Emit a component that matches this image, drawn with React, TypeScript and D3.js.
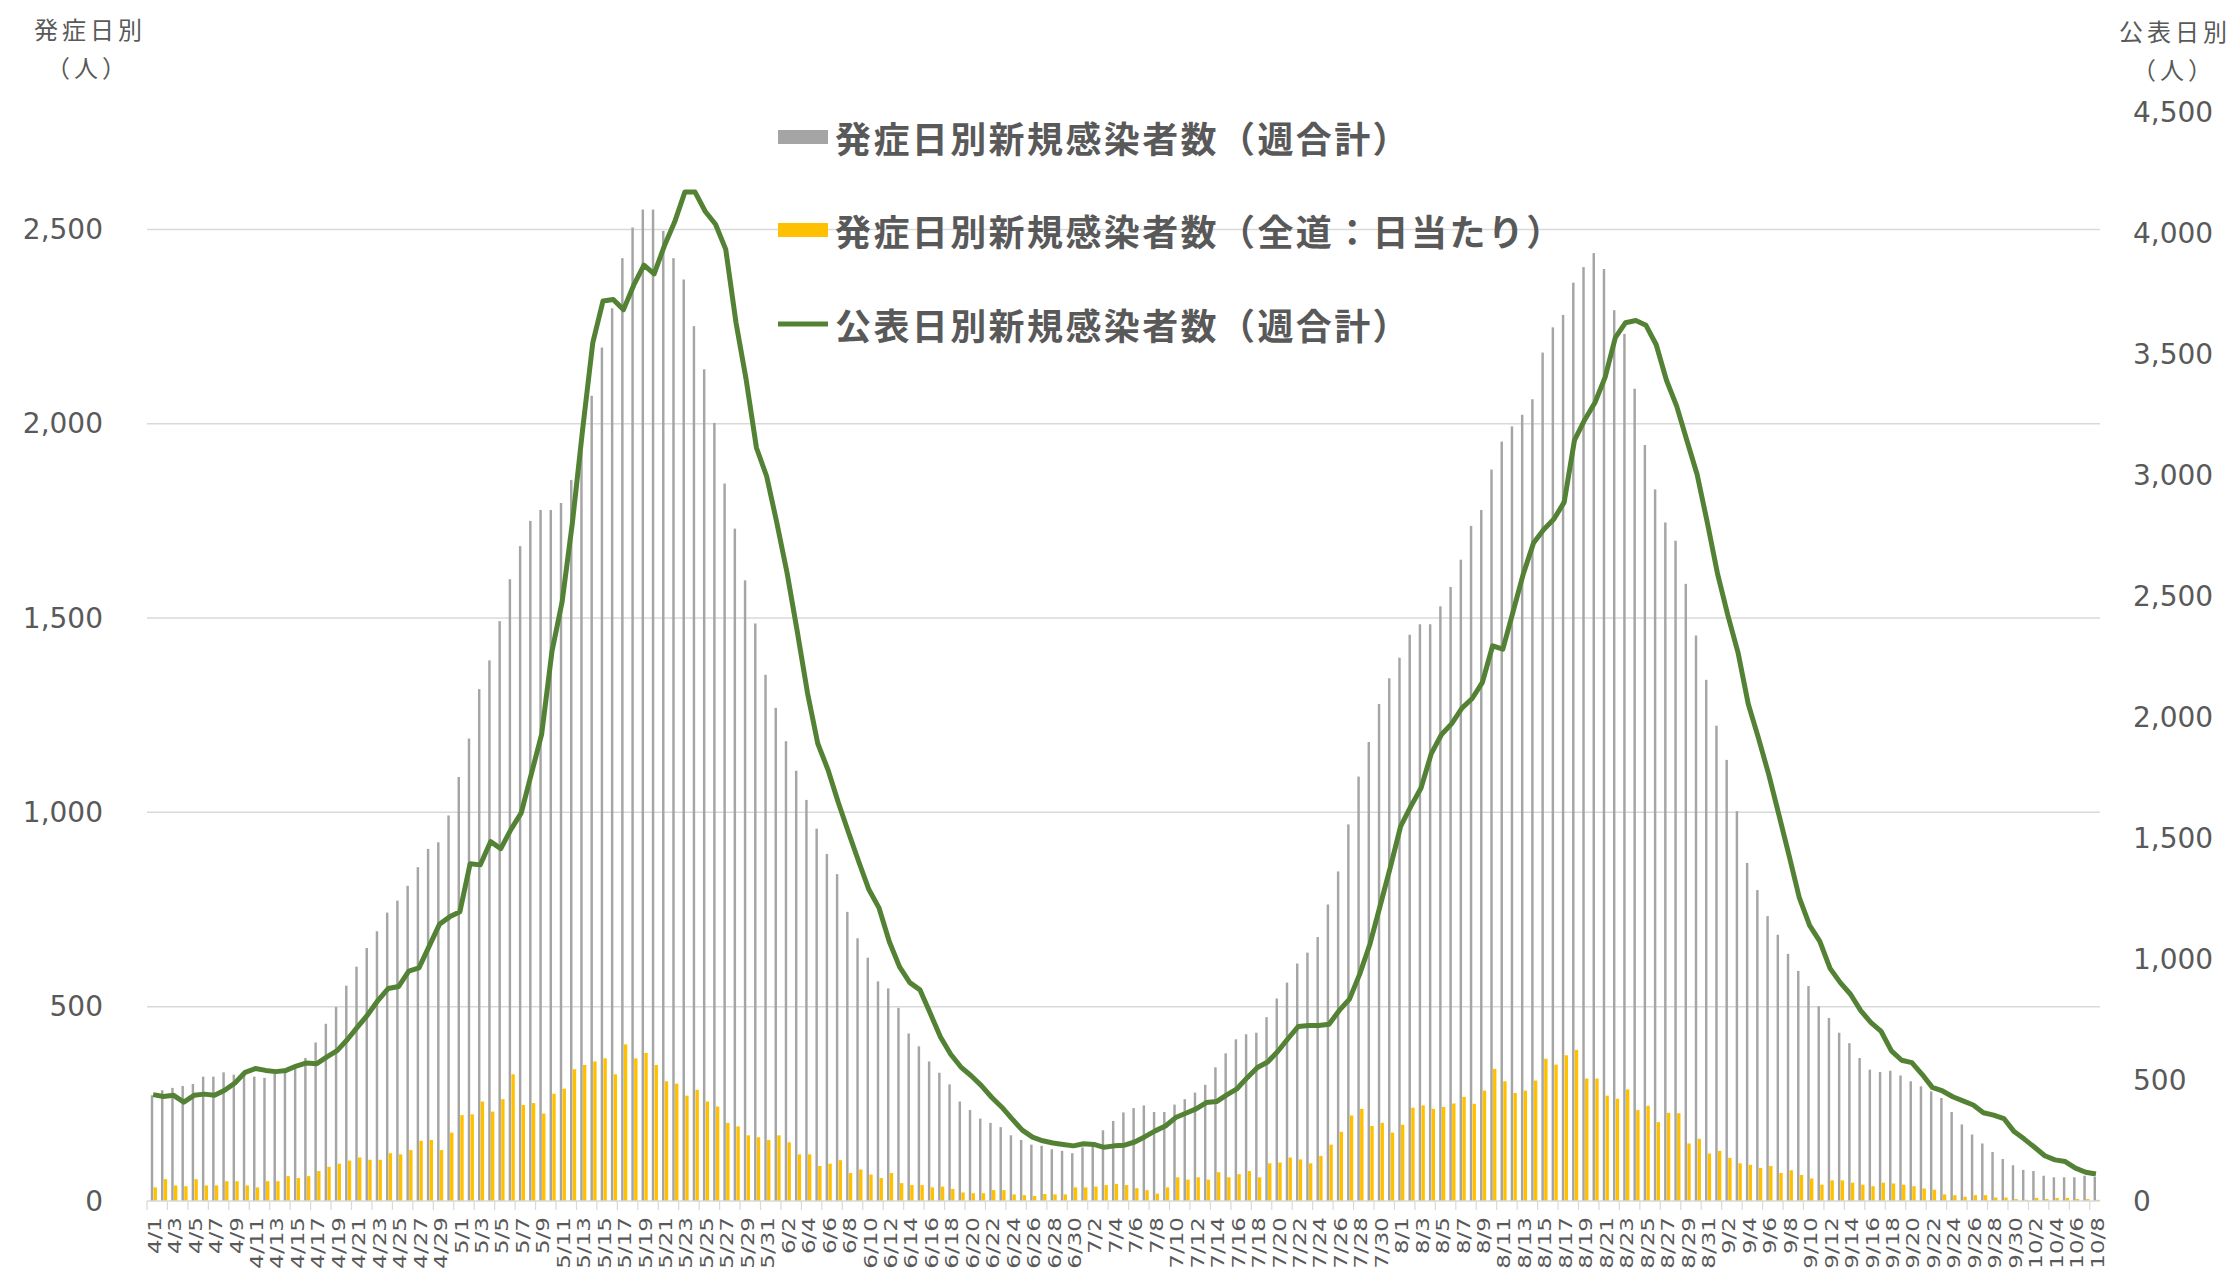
import { useEffect, useRef } from 'react';
import * as d3 from 'd3';

// 発症日別新規感染者数（週合計） — left axis
const onsetWeekly = [
  // Apr
  272, 285, 291, 296, 301, 320, 320, 331, 325, 328, 320, 317, 328, 336, 344, 368, 408, 456, 499, 554, 603, 651, 694, 742, 773, 811, 859, 906, 923, 992,
  // May
  1091, 1190, 1317, 1391, 1492, 1600, 1685, 1750, 1778, 1778, 1796, 1855, 1929, 2072, 2196, 2297, 2426, 2505, 2551, 2551, 2496, 2426, 2371, 2251, 2140, 2002, 1846, 1730, 1597, 1486, 1354,
  // Jun
  1269, 1183, 1107, 1032, 958, 893, 841, 744, 676, 626, 565, 547, 497, 431, 398, 359, 330, 300, 256, 234, 212, 201, 190, 169, 157, 145, 142, 133, 129, 123,
  // Jul
  138, 151, 182, 206, 228, 239, 246, 229, 229, 248, 262, 279, 299, 344, 380, 416, 429, 433, 473, 521, 562, 611, 639, 679, 763, 848, 969, 1092, 1181, 1279, 1345,
  // Aug
  1398, 1457, 1484, 1484, 1530, 1580, 1650, 1737, 1778, 1882, 1954, 1993, 2023, 2063, 2183, 2248, 2280, 2363, 2403, 2439, 2398, 2292, 2231, 2090, 1945, 1831, 1746, 1699, 1588, 1455, 1341,
  // Sep
  1223, 1135, 1003, 870, 800, 733, 685, 636, 592, 553, 501, 471, 433, 406, 368, 338, 332, 335, 323, 308, 295, 282, 265, 229, 197, 171, 148, 126, 108, 92,
  // Oct
  80, 77, 65, 61, 61, 61, 65, 62,
];

// 発症日別新規感染者数（全道：日当たり） — left axis
const onsetDaily = [
  35, 56, 40, 38, 56, 40, 40, 51, 51, 40, 35, 51, 51, 64, 59, 64, 77, 88, 96, 104, 112, 106, 106, 123, 120, 131, 155, 157, 131, 176,
  221, 223, 256, 230, 262, 326, 247, 252, 225, 276, 289, 339, 350, 359, 367, 326, 403, 367, 381, 350, 308, 302, 271, 286, 256, 243, 201, 192, 169, 164, 157,
  169, 151, 120, 120, 90, 96, 105, 72, 81, 68, 59, 72, 46, 41, 41, 35, 37, 31, 22, 20, 20, 28, 28, 17, 15, 13, 18, 17, 17, 35,
  35, 37, 41, 44, 41, 33, 28, 19, 35, 61, 55, 61, 55, 74, 61, 69, 77, 61, 97, 99, 112, 107, 97, 116, 145, 178, 220, 237, 193, 201, 176,
  196, 240, 246, 237, 242, 251, 268, 250, 284, 340, 308, 278, 284, 310, 366, 351, 375, 389, 315, 315, 271, 263, 287, 234, 245, 203, 227, 226, 148, 160, 122,
  129, 111, 97, 93, 85, 90, 72, 79, 67, 58, 42, 53, 53, 47, 42, 38, 47, 45, 42, 38, 32, 29, 17, 15, 11, 15, 15, 9, 9, 5,
  3, 8, 5, 8, 8, 5, 5, 3,
];

// 公表日別新規感染者数（週合計） — right axis
const announcedWeekly = [
  440, 432, 437, 409, 437, 442, 437, 458, 488, 532, 548, 540, 535, 540, 558, 571, 568, 596, 622, 668, 720, 771, 830, 879, 887, 951, 964, 1054, 1144, 1175,
  1196, 1395, 1390, 1486, 1457, 1537, 1605, 1768, 1931, 2271, 2478, 2804, 3189, 3550, 3722, 3728, 3686, 3787, 3870, 3834, 3950, 4048, 4172, 4172, 4092, 4039, 3935, 3633, 3396, 3115, 2997,
  2804, 2597, 2354, 2100, 1892, 1783, 1649, 1525, 1404, 1288, 1211, 1072, 968, 903, 873, 776, 678, 607, 554, 518, 477, 429, 388, 340, 293, 264, 249, 240, 234, 228,
  237, 234, 222, 228, 231, 244, 266, 290, 310, 345, 363, 381, 407, 411, 439, 464, 510, 552, 575, 619, 672, 722, 726, 726, 731, 788, 835, 938, 1062, 1221, 1381,
  1549, 1632, 1708, 1850, 1929, 1974, 2038, 2078, 2145, 2296, 2282, 2437, 2593, 2721, 2777, 2820, 2890, 3145, 3230, 3301, 3406, 3570, 3632, 3641, 3621, 3541, 3394, 3287, 3145, 3004, 2805,
  2593, 2423, 2268, 2055, 1914, 1764, 1597, 1427, 1253, 1140, 1074, 962, 903, 855, 787, 738, 701, 621, 582, 572, 524, 470, 455, 431, 414, 397, 365, 355, 341, 287,
  256, 222, 187, 170, 163, 136, 119, 112,
];

const dates = d3.timeDays(new Date(2021, 3, 1), new Date(2021, 9, 9)).map(d3.timeFormat('%-m/%-d'));
const leftTicks = [0, 500, 1000, 1500, 2000, 2500];
const rightTicks = [0, 500, 1000, 1500, 2000, 2500, 3000, 3500, 4000, 4500];

const legendItems = [
  { label: '発症日別新規感染者数（週合計）', kind: 'bar', color: '#a5a5a5' },
  { label: '発症日別新規感染者数（全道：日当たり）', kind: 'bar', color: '#ffc000' },
  { label: '公表日別新規感染者数（週合計）', kind: 'line', color: '#548235' },
];

export default function App() {
  const svgRef = useRef<SVGSVGElement>(null);

  useEffect(() => {
    document.body.style.margin = '0';
    if (!svgRef.current) return;

    const svg = d3.select(svgRef.current);
    svg.selectAll('*').remove();

    const width = 2239;
    const height = 1274;
    const left = 147;
    const right = 2100;
    const top = 112.8;
    const bottom = 1201;
    const textColor = '#595959';

    svg.append('rect').attr('width', width).attr('height', height).attr('fill', '#ffffff');

    // Scales
    const x = d3.scaleBand<number>().domain(d3.range(dates.length)).range([left, right]);
    const step = x.step();
    const yL = d3.scaleLinear().domain([0, 2800]).range([bottom, top]);
    const yR = d3.scaleLinear().domain([0, 4500]).range([bottom, top]);

    // Gridlines
    svg.append('g')
      .selectAll('line')
      .data(leftTicks.filter(t => t > 0))
      .join('line')
      .attr('x1', left)
      .attr('x2', right)
      .attr('y1', d => yL(d))
      .attr('y2', d => yL(d))
      .attr('stroke', '#d9d9d9')
      .attr('stroke-width', 1.5);

    // Gray bars (weekly)
    svg.append('g')
      .selectAll('rect')
      .data(onsetWeekly)
      .join('rect')
      .attr('x', (_, i) => (x(i) as number) + step * 0.37)
      .attr('width', step * 0.24)
      .attr('y', d => yL(d))
      .attr('height', d => bottom - yL(d))
      .attr('fill', '#a5a5a5');

    // Yellow bars (daily)
    svg.append('g')
      .selectAll('rect')
      .data(onsetDaily)
      .join('rect')
      .attr('x', (_, i) => (x(i) as number) + step * 0.64)
      .attr('width', step * 0.33)
      .attr('y', d => yL(d))
      .attr('height', d => bottom - yL(d))
      .attr('fill', '#ffc000');

    // Axis line and ticks
    svg.append('line')
      .attr('x1', left)
      .attr('x2', right)
      .attr('y1', bottom)
      .attr('y2', bottom)
      .attr('stroke', '#d9d9d9')
      .attr('stroke-width', 1.5);

    const tickIdx = d3.range(0, dates.length + 1, 2);
    svg.append('g')
      .selectAll('line')
      .data(tickIdx)
      .join('line')
      .attr('x1', d => left + d * step)
      .attr('x2', d => left + d * step)
      .attr('y1', bottom)
      .attr('y2', bottom + 9)
      .attr('stroke', '#d9d9d9')
      .attr('stroke-width', 1.2);

    // Announced line
    const line = d3.line<number>()
      .x((_, i) => (x(i) as number) + step * 0.6)
      .y(d => yR(d));

    svg.append('path')
      .datum(announcedWeekly)
      .attr('fill', 'none')
      .attr('stroke', '#548235')
      .attr('stroke-width', 5)
      .attr('stroke-linejoin', 'round')
      .attr('d', line);

    // X labels
    svg.append('g')
      .selectAll('text')
      .data(dates.map((d, i) => ({ d, i })).filter(o => o.i % 2 === 0))
      .join('text')
      .attr('transform', o => `translate(${(x(o.i) as number) + step * 0.75},1217) rotate(-90) scale(1.28,1)`)
      .attr('text-anchor', 'end')
      .attr('dominant-baseline', 'central')
      .style('font-family', '"DejaVu Sans", sans-serif')
      .style('font-size', '18px')
      .style('fill', textColor)
      .text(o => o.d);

    // Left axis labels
    svg.append('g')
      .selectAll('text')
      .data(leftTicks)
      .join('text')
      .attr('x', 103)
      .attr('y', d => yL(d))
      .attr('text-anchor', 'end')
      .attr('dominant-baseline', 'central')
      .style('font-family', '"DejaVu Sans", sans-serif')
      .style('font-size', '28px')
      .style('fill', textColor)
      .text(d => d3.format(',')(d));

    // Right axis labels
    svg.append('g')
      .selectAll('text')
      .data(rightTicks)
      .join('text')
      .attr('x', 2133)
      .attr('y', d => yR(d))
      .attr('text-anchor', 'start')
      .attr('dominant-baseline', 'central')
      .style('font-family', '"DejaVu Sans", sans-serif')
      .style('font-size', '28px')
      .style('fill', textColor)
      .text(d => d3.format(',')(d));

    // Axis titles
    const titles = [
      { t: '発症日別', x: 90, y: 28 },
      { t: '（人）', x: 88, y: 66 },
      { t: '公表日別', x: 2175, y: 30 },
      { t: '（人）', x: 2174, y: 68 },
    ];
    svg.append('g')
      .selectAll('text')
      .data(titles)
      .join('text')
      .attr('x', d => d.x)
      .attr('y', d => d.y)
      .attr('text-anchor', 'middle')
      .attr('dominant-baseline', 'central')
      .style('font-family', '"Noto Sans CJK JP", sans-serif')
      .style('font-size', '24px')
      .style('letter-spacing', '4px')
      .style('fill', textColor)
      .text(d => d.t);

    // Legend
    const legendY = [137, 230, 324];
    const legend = svg.append('g');
    legendItems.forEach((item, k) => {
      const y = legendY[k];
      if (item.kind === 'bar') {
        legend.append('rect')
          .attr('x', 778)
          .attr('y', y - 7)
          .attr('width', 50)
          .attr('height', 14)
          .attr('fill', item.color);
      } else {
        legend.append('line')
          .attr('x1', 778)
          .attr('x2', 828)
          .attr('y1', y)
          .attr('y2', y)
          .attr('stroke', item.color)
          .attr('stroke-width', 5);
      }
      legend.append('text')
        .attr('x', 835)
        .attr('y', y)
        .attr('dominant-baseline', 'central')
        .style('font-family', '"Noto Sans CJK JP", sans-serif')
        .style('font-weight', 'bold')
        .style('font-size', '36px')
        .style('letter-spacing', '2.4px')
        .style('fill', textColor)
        .text(item.label);
    });
  }, []);

  return (
    <div>
      <svg ref={svgRef} width="2239" height="1274" style={{ display: 'block' }}></svg>
    </div>
  );
}
